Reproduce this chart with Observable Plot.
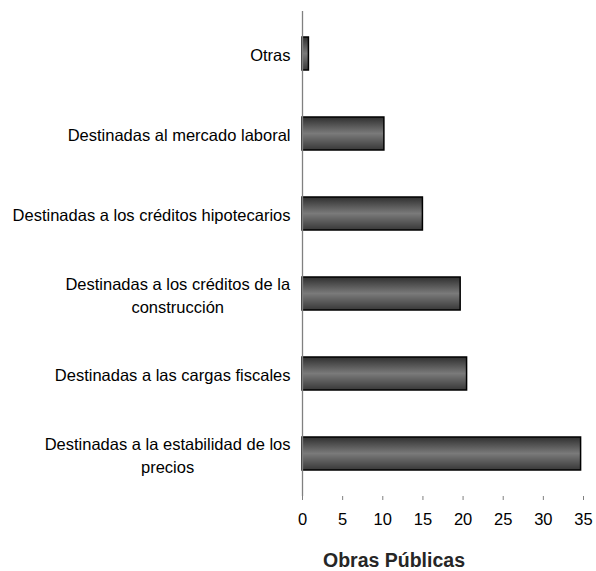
<!DOCTYPE html>
<html>
<head>
<meta charset="utf-8">
<script src="https://cdn.jsdelivr.net/npm/d3@7"></script>
<script src="https://cdn.jsdelivr.net/npm/@observablehq/plot@0.6"></script>
<style>
  body { margin: 0; background: #fff; font-family: "Liberation Sans", Arial, sans-serif; }
  #wrap { position: relative; width: 596px; height: 571px; }
  #title { position: absolute; top: 550px; left: 200px; width: 388px; text-align: center;
           font-size: 19.5px; font-weight: bold; line-height: 20px; color: #262626; white-space: nowrap; }
</style>
</head>
<body>
<div id="wrap">
  <div id="chart"></div>
  <div id="title">Obras Públicas</div>
</div>
<script>
const categories = [
  "Otras",
  "Destinadas al mercado laboral",
  "Destinadas a los créditos hipotecarios",
  "Destinadas a los créditos de la\nconstrucción",
  "Destinadas a las cargas fiscales",
  "Destinadas a la estabilidad de los\nprecios"
];
const values = [0.8, 10.2, 15.0, 19.7, 20.5, 34.7];
const xTicks = [0, 5, 10, 15, 20, 25, 30, 35];

const data = categories.map((c, i) => ({ category: c, value: values[i] }));

const defs = () => {
  const d = d3.create("svg:defs");
  const g = d.append("linearGradient").attr("id", "barGrad")
    .attr("x1", 0).attr("y1", 0).attr("x2", 0).attr("y2", 1);
  g.append("stop").attr("offset", "0%").attr("stop-color", "#2f2f2f");
  g.append("stop").attr("offset", "50%").attr("stop-color", "#7a7a7a");
  g.append("stop").attr("offset", "100%").attr("stop-color", "#383838");
  return d.node();
};

const chart = Plot.plot({
  width: 596,
  height: 540,
  marginLeft: 302,
  marginRight: 13,
  marginTop: 11,
  marginBottom: 44,
  style: { fontFamily: "'Liberation Sans', Arial, sans-serif", fontSize: "16px", color: "#000", background: "#fff" },
  x: { domain: [0, 35], ticks: xTicks, label: null },
  y: { domain: categories, paddingInner: 0.59, paddingOuter: 0.295, label: null },
  marks: [
    defs,
    Plot.barX(data, { x: "value", y: "category", fill: "url(#barGrad)", stroke: "#000", strokeWidth: 1.5 }),
    Plot.ruleX([0], { stroke: "#808080", strokeWidth: 1.3 }),
    Plot.axisX({ ticks: xTicks, tickSize: 4, tickPadding: 13, stroke: "#808080", fill: "#000", label: null, fontSize: 16.5 }),
    Plot.axisY({ tickSize: 0, tickPadding: 12, fill: "#000", label: null, fontSize: 16.5, lineHeight: 1.37, textAnchor: "end" })
  ]
});
document.getElementById("chart").appendChild(chart);

// Center multi-line category labels (each line centered, block right-aligned)
const ylabels = chart.querySelectorAll('g[aria-label="y-axis tick label"] text');
ylabels.forEach(t => {
  const tspans = t.querySelectorAll("tspan");
  if (tspans.length > 1) {
    const w = t.getBBox().width;
    t.setAttribute("text-anchor", "middle");
    tspans.forEach(s => s.setAttribute("x", -w / 2));
  }
});
</script>
</body>
</html>
